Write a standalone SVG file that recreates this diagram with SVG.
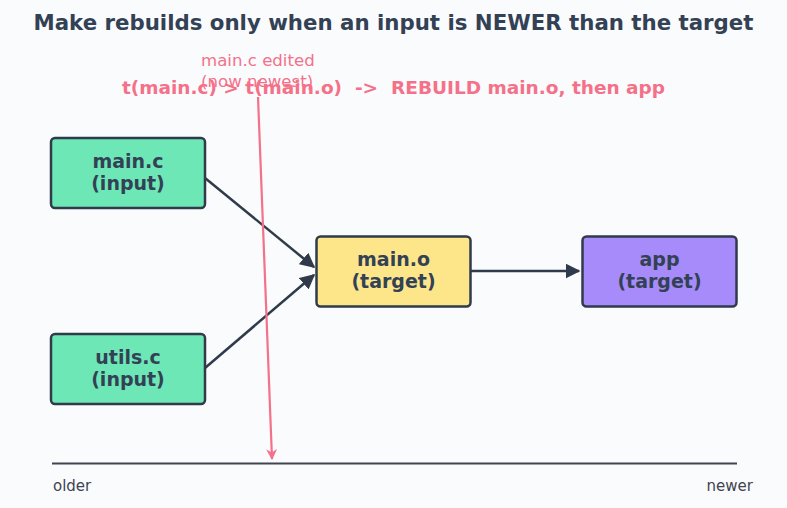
<svg xmlns="http://www.w3.org/2000/svg" width="787" height="508" viewBox="0 0 787 508">
<defs>
<style>
.node rect{stroke:#2f3b4a;stroke-width:2.5}
.nt{font-family:"DejaVu Sans",sans-serif;font-weight:bold;font-size:19px;fill:#334155;text-anchor:middle}
.conn{stroke:#2f3b4a;stroke-width:2.5;fill:none;marker-end:url(#ah)}
.red{fill:#f47189;font-family:"DejaVu Sans",sans-serif}
</style>
<marker id="ah" viewBox="0 0 10 10" refX="9" refY="5" markerWidth="6" markerHeight="6" orient="auto" markerUnits="strokeWidth">
<path d="M0,0 L10,5 L0,10 z" fill="#2f3b4a"/>
</marker>
<marker id="rh" viewBox="0 0 10 10" refX="9" refY="5" markerWidth="5" markerHeight="5" orient="auto" markerUnits="strokeWidth">
<path d="M0,0 L10,5 L0,10 L3,5 z" fill="#f47189"/>
</marker>
</defs>
<rect width="787" height="508" fill="#fafbfd"/>
<text x="393.5" y="30" font-family="DejaVu Sans, sans-serif" font-weight="bold" font-size="21.3" fill="#334155" text-anchor="middle">Make rebuilds only when an input is NEWER than the target</text>
<text class="red" x="201" y="66" font-size="16.6">main.c edited</text>
<text class="red" x="201" y="87" font-size="16.6">(now newest)</text>
<text class="red" x="393.5" y="94" font-size="18.5" font-weight="bold" text-anchor="middle" xml:space="preserve">t(main.c) &gt; t(main.o)  -&gt;  REBUILD main.o, then app</text>
<g id="connectors">
<line class="conn" x1="205" y1="178" x2="314" y2="267"/>
<line class="conn" x1="205" y1="368" x2="314" y2="275"/>
<line class="conn" x1="471" y1="271" x2="579" y2="271"/>
</g>
<g id="node-main-c" class="node"><rect x="51" y="138" width="154" height="70" rx="4" fill="#6ee7b7"/><text class="nt" x="128" y="168">main.c</text><text class="nt" x="128" y="190">(input)</text></g>
<g id="node-utils-c" class="node"><rect x="51" y="334" width="154" height="70" rx="4" fill="#6ee7b7"/><text class="nt" x="128" y="364">utils.c</text><text class="nt" x="128" y="386">(input)</text></g>
<g id="node-main-o" class="node"><rect x="316.5" y="236.5" width="154" height="70" rx="4" fill="#fde68a"/><text class="nt" x="393.5" y="266">main.o</text><text class="nt" x="393.5" y="288">(target)</text></g>
<g id="node-app" class="node"><rect x="582.5" y="236.5" width="154" height="70" rx="4" fill="#a78bfa"/><text class="nt" x="659.5" y="266">app</text><text class="nt" x="659.5" y="288">(target)</text></g>
<line x1="52" y1="463.5" x2="737" y2="463.5" stroke="#3f4450" stroke-width="2"/>
<text x="53" y="491" font-family="DejaVu Sans, sans-serif" font-size="15" fill="#3f4450">older</text>
<text x="753" y="491" font-family="DejaVu Sans, sans-serif" font-size="15" fill="#3f4450" text-anchor="end">newer</text>
<line x1="258" y1="97" x2="272" y2="459" stroke="#f47189" stroke-width="2.2" marker-end="url(#rh)"/>
</svg>
